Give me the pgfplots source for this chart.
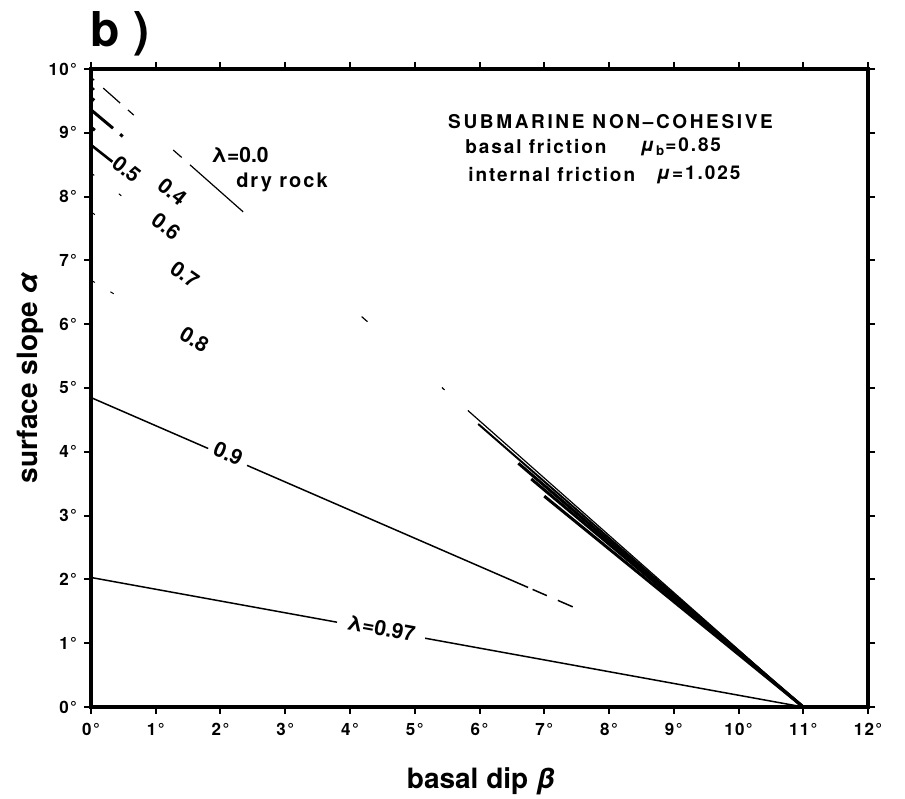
\documentclass[border=0pt]{standalone}
\usepackage{fontspec}
\setmainfont{TeX Gyre Heros}
\newfontfamily\headfont[LetterSpace=14]{TeX Gyre Heros}
\newfontfamily\annfont[LetterSpace=10]{TeX Gyre Heros}
\newfontfamily\tickfont[LetterSpace=8]{TeX Gyre Heros}
\usepackage{pgfplots}
\pgfplotsset{compat=1.18}
\begin{document}
\begin{tikzpicture}
\path[use as bounding box] (-45.5pt,-45.5pt) rectangle (407pt,353.5pt);
\begin{axis}[
  scale only axis, width=388.5pt, height=319pt,
  xmin=0, xmax=12, ymin=0, ymax=10,
  axis line style={line width=2pt},
  tick align=outside, major tick length=3.5pt,
  tick style={black, line width=1pt},
  xtick={0,1,...,12}, ytick={0,1,...,10},
  xticklabels={0°,1°,2°,3°,4°,5°,6°,7°,8°,9°,10°,11°,12°},
  yticklabels={0°,1°,2°,3°,4°,5°,6°,7°,8°,9°,10°},
  ticklabel style={font=\tickfont\bfseries\fontsize{8.5}{10}\selectfont},
  xticklabel style={yshift=-1pt},
  xlabel={basal dip \textit{β}}, ylabel={surface slope \textit{α}},
  every axis x label/.style={at={(axis description cs:0.502,-0.127)},anchor=base,font=\bfseries\fontsize{14}{16}\selectfont},
  every axis y label/.style={at={(axis description cs:-0.0785,0.516)},anchor=center,rotate=90,font=\bfseries\fontsize{14}{16}\selectfont},
  unbounded coords=jump,
  clip=false,
]
% lambda = 0.97
\addplot[black, line width=0.75pt] coordinates {(0,2.03) (3.8,1.329) (4.5,nan) (5.16,1.078) (11,0)};
% lambda = 0.9
\addplot[black, line width=0.75pt] coordinates {(0,4.85) (1.81,4.052) (2.1,nan) (2.41,3.787) (6.75,1.874) (6.78,nan) (6.82,1.843) (7.04,1.746) (7.1,nan) (7.21,1.671) (7.44,1.570)};
% lambda = 0.8
\addplot[black, line width=0.5pt] coordinates {(0,6.69) (0.06,6.654) (0.2,nan) (0.30,6.508) (0.35,6.477)};
% lambda = 0.7
\addplot[black, line width=0.5pt] coordinates {(0,7.76) (0.06,7.718)};
% lambda = 0.6
\addplot[black, line width=0.5pt] coordinates {(0,8.37) (0.05,8.332) (0.2,nan) (0.43,8.043) (0.47,8.012)};
% lambda = 0.5
\addplot[black, line width=1.3pt] coordinates {(0,8.81) (0.33,8.546)};
% lambda = 0.4
\addplot[black, line width=1.5pt] coordinates {(0,9.09) (0.06,9.040) (3,nan) (7.0,3.305) (11,0)};
% lambda = 0.3
\addplot[black, line width=1.5pt] coordinates {(0,9.36) (0.34,9.071) (0.4,nan) (0.45,8.977) (0.49,8.943) (3,nan) (6.8,3.574) (11,0)};
% lambda = 0.2
\addplot[black, line width=1.5pt] coordinates {(0,9.55) (0.05,9.507) (3,nan) (6.6,3.820) (11,0)};
% lambda = 0.1
\addplot[black, line width=1pt] coordinates {(0,9.72) (0.05,9.676) (3,nan) (5.98,4.436) (11,0)};
% lambda = 0.0 dry rock
\addplot[black, line width=0.6pt] coordinates {(0,9.87) (0.05,9.825) (0.1,nan) (0.19,9.700) (0.45,9.466) (0.5,nan) (0.57,9.359) (0.66,9.278) (1.0,nan) (1.27,8.730) (1.40,8.614) (1.45,nan) (1.53,8.497) (2.35,7.761) (3,nan) (4.18,6.119) (4.27,6.039) (5,nan) (5.42,5.007) (5.46,4.971) (5.6,nan) (5.82,4.648) (11,0)};
% curve labels
\begin{scope}[every node/.style={inner sep=0pt, font=\bfseries\fontsize{10.5}{12}\selectfont}]
\node[rotate=-23.5] at (axis cs:2.12,3.97) {0.9};
\node[rotate=-10.3] at (axis cs:4.48,1.24) {λ=0.97};
\node[rotate=-30.9] at (axis cs:1.6,5.76) {0.8};
\node[rotate=-34.8] at (axis cs:1.45,6.78) {0.7};
\node[rotate=-36.9] at (axis cs:1.16,7.53) {0.6};
\node[rotate=-38.3] at (axis cs:0.55,8.43) {0.5};
\node[rotate=-39.1] at (axis cs:1.26,8.08) {0.4};
\node at (axis cs:2.30,8.65) {λ=0.0};
\end{scope}
\node[inner sep=0pt, font=\annfont\bfseries\fontsize{10}{12}\selectfont] at (axis cs:2.95,8.23) {dry rock};
\end{axis}
\node[anchor=base west, font=\bfseries\fontsize{24}{28}\selectfont, inner sep=0pt] at (-0.5pt,330pt) {b )};
\node[anchor=center, inner sep=0pt, font=\headfont\bfseries\fontsize{9.5}{11}\selectfont] at (259.75pt,292.5pt) {SUBMARINE NON–COHESIVE};
\begin{scope}[every node/.style={inner sep=0pt, font=\annfont\bfseries\fontsize{9.5}{11}\selectfont}]
\node[anchor=west] at (187pt,280pt) {basal friction};
\node[anchor=west] at (274.5pt,280pt) {\textit{μ}\textsubscript{b}=0.85};
\node[anchor=west] at (188.5pt,266pt) {internal friction};
\node[anchor=west] at (282.5pt,266pt) {\textit{μ}=1.025};
\end{scope}
\end{tikzpicture}
\end{document}
